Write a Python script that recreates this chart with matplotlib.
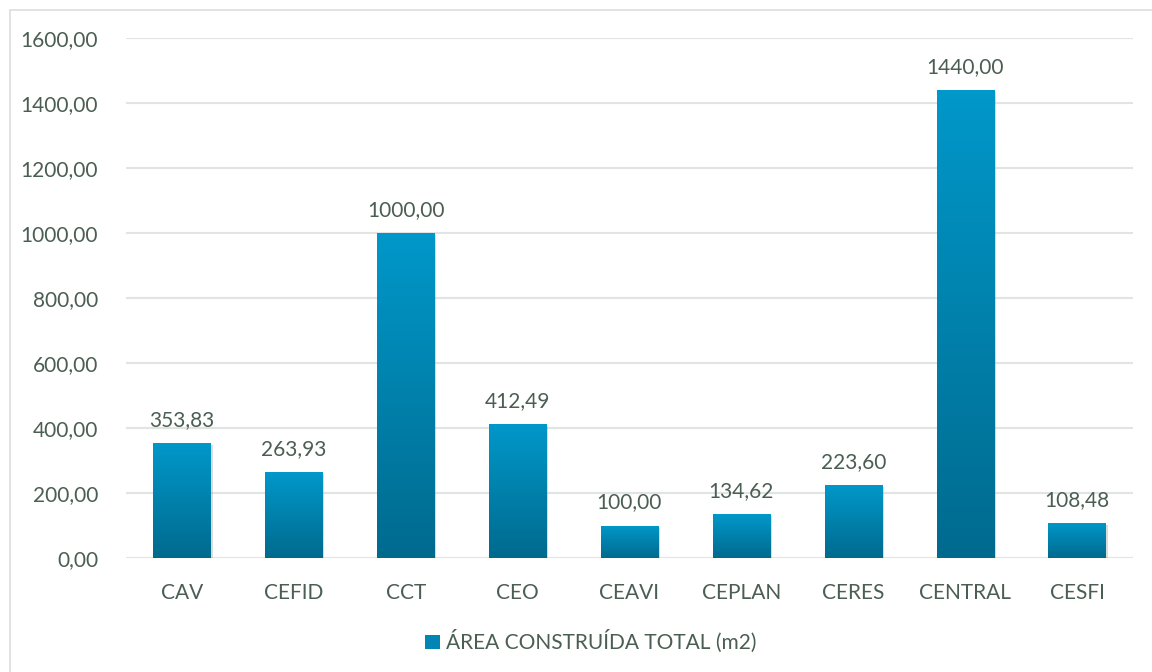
import numpy as np
import matplotlib.pyplot as plt
from matplotlib.patches import Rectangle
from matplotlib.colors import LinearSegmentedColormap
import matplotlib.patheffects as pe

# Data
categories = ["CAV", "CEFID", "CCT", "CEO", "CEAVI", "CEPLAN", "CERES", "CENTRAL", "CESFI"]
values = [353.83, 263.93, 1000.00, 412.49, 100.00, 134.62, 223.60, 1440.00, 108.48]
series_name = "ÁREA CONSTRUÍDA TOTAL (m2)"
yticks = [0, 200, 400, 600, 800, 1000, 1200, 1400, 1600]

text_color = "#4b5e52"
grid_color = "#e0e4e2"
plt.rcParams["font.family"] = ["Lato", "DejaVu Sans"]


def br(v):
    # Brazilian number format: comma decimal
    return f"{v:.2f}".replace(".", ",")


fig = plt.figure(figsize=(11.52, 6.72), dpi=100)
ax = fig.add_axes([0.1094, 0.1696, 0.874, 0.7739])

x = np.arange(len(categories))
bars = ax.bar(x, values, width=0.51, color="#0085b5", zorder=3,
              path_effects=[pe.SimplePatchShadow(offset=(1.5, -1.5), shadow_rgbFace="#999999", alpha=0.35),
                            pe.Normal()])

cmap = LinearSegmentedColormap.from_list("blu", ["#006a8e", "#0098ca"])
grad = np.linspace(0, 1, 256).reshape(-1, 1)
for b in bars:
    x0, w, h = b.get_x(), b.get_width(), b.get_height()
    im = ax.imshow(grad, cmap=cmap, aspect="auto", origin="lower",
                   extent=(x0, x0 + w, 0, h), zorder=4)
    im.set_clip_path(b)

for xi, v in zip(x, values):
    ax.text(xi, v + 40, br(v), ha="center", va="bottom", fontsize=15, color=text_color, zorder=5)

ax.set_xlim(-0.5, len(categories) - 0.5)
ax.set_ylim(0, 1600)
ax.set_yticks(yticks)
ax.set_yticklabels([br(t) for t in yticks])
ax.set_xticks(x)
ax.set_xticklabels(categories)
ax.tick_params(axis="both", length=0, labelsize=15, labelcolor=text_color)
ax.tick_params(axis="y", pad=20)
ax.tick_params(axis="x", pad=18)
ax.grid(axis="y", color=grid_color, linewidth=1.5, zorder=0)
for s in ax.spines.values():
    s.set_visible(False)

# legend
handle = Rectangle((0, 0), 1, 1, facecolor="#0085b5")
fig.legend([handle], [series_name], loc="center", bbox_to_anchor=(0.513, 0.045),
           frameon=False, fontsize=15, labelcolor=text_color,
           handlelength=0.7, handleheight=0.7, handletextpad=0.3)

# outer chart border
fig.add_artist(Rectangle((0.009, -0.02), 1.0, 1.005, transform=fig.transFigure,
                         fill=False, edgecolor="#d9dedb", linewidth=1.2))

fig.savefig("out.png", dpi=100)
